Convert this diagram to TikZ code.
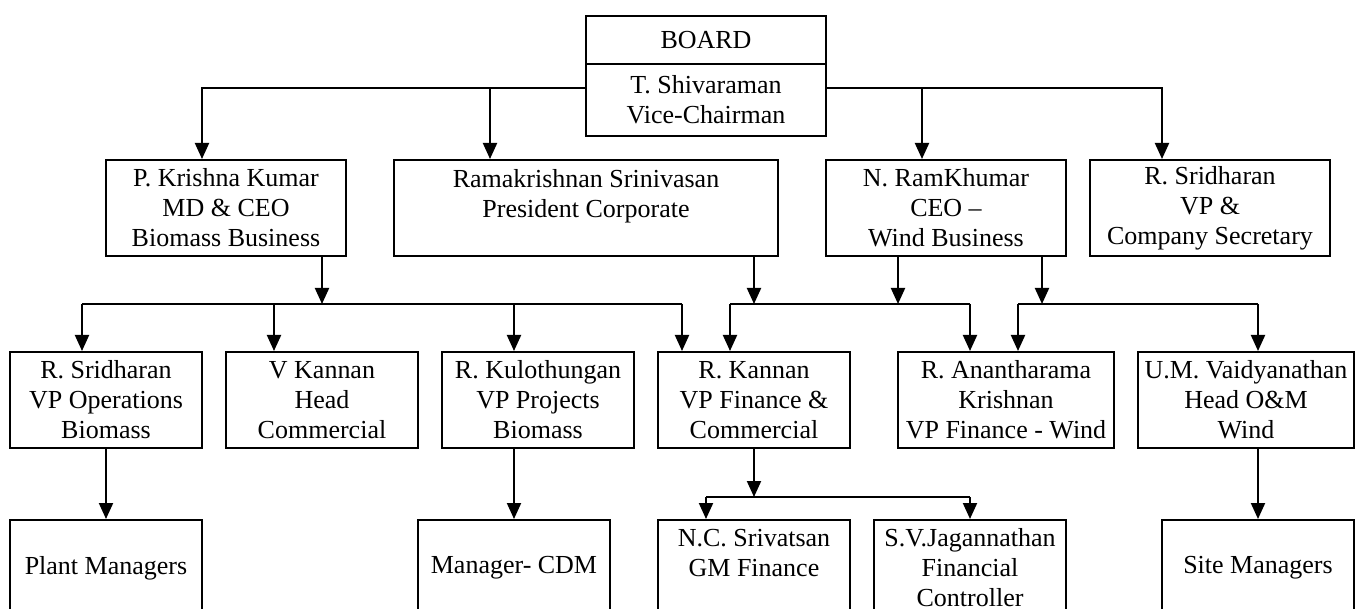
\documentclass[tikz,border=0pt]{standalone}
\usepackage{fontspec}
\setmainfont{Liberation Serif}
\usetikzlibrary{arrows.meta}

\begin{document}
\begin{tikzpicture}[x=0.5pt, y=-0.5pt,
    box/.style={draw, line width=1pt, align=center, inner sep=0pt,
        minimum width=96pt, minimum height=48pt,
        font=\fontsize{13}{15}\selectfont},
    wide/.style={minimum width=120pt},
    semi/.style={minimum width=108pt},
    arr/.style={line width=1pt, -{Triangle[length=8pt,width=7pt]}},
    bus/.style={line width=1pt}]

    % Fix the page size
    \useasboundingbox (0,0) rectangle (1355,609);
    \clip (0,0) rectangle (1355,609);

    % Board on top
    \node[box, wide, minimum height=24pt] (board) at (706,40) {BOARD};
    \node[box, wide, minimum height=36pt] (vc) at (706,100) {T. Shivaraman\\Vice-Chairman};

    % First level
    \node[box, wide] (pk) at (226,208) {P. Krishna Kumar\\MD \& CEO\\Biomass Business};
    \node[box, minimum width=192pt] (rs) at (586,208) {Ramakrishnan Srinivasan\\President Corporate\\~};
    \node[box, wide] (nr) at (946,208) {N. RamKhumar\\CEO --\\Wind Business};
    \node[box, wide] (rsr) at (1210,208) {R. Sridharan\\VP \&\\Company Secretary};

    % Second level
    \node[box] (rso) at (106,400) {R. Sridharan\\VP Operations\\Biomass};
    \node[box] (vk) at (322,400) {V Kannan\\Head\\Commercial};
    \node[box] (rk) at (538,400) {R. Kulothungan\\VP Projects\\Biomass};
    \node[box] (rka) at (754,400) {R. Kannan\\VP Finance \&\\Commercial};
    \node[box, semi] (ra) at (1006,400) {R. Anantharama\\Krishnan\\VP Finance - Wind};
    \node[box, semi] (um) at (1246,400) {U.M. Vaidyanathan\\Head O\&M\\Wind};

    % Third level
    \node[box] (pm) at (106,568) {Plant Managers};
    \node[box] (cdm) at (514,568) {Manager- CDM};
    \node[box] (ncs) at (754,568) {N.C. Srivatsan\\GM Finance\\~};
    \node[box] (svj) at (970,568) {S.V.Jagannathan\\Financial\\Controller};
    \node[box] (sm) at (1258,568) {Site Managers};

    % Board to first level
    \coordinate (t1) at (202,88);
    \coordinate (t2) at (490,88);
    \coordinate (t3) at (922,88);
    \coordinate (t4) at (1162,88);
    \draw[arr] (vc.west |- t1) -| (t1 |- pk.north);
    \draw[arr] (t2) -- (t2 |- rs.north);
    \draw[arr] (vc.east |- t4) -| (t4 |- rsr.north);
    \draw[arr] (t3) -- (t3 |- nr.north);

    % First level to second level
    \coordinate (m1) at (322,304);
    \coordinate (m2) at (754,304);
    \coordinate (m3) at (898,304);
    \coordinate (m4) at (1042,304);
    \draw[arr] (m1 |- pk.south) -- (m1);
    \draw[arr] (m2 |- rs.south) -- (m2);
    \draw[arr] (m3 |- nr.south) -- (m3);
    \draw[arr] (m4 |- nr.south) -- (m4);

    \coordinate (a1) at (82,304);
    \coordinate (a2) at (274,304);
    \coordinate (a3) at (514,304);
    \coordinate (a4) at (682,304);
    \coordinate (b1) at (730,304);
    \coordinate (b2) at (970,304);
    \coordinate (c1) at (1018,304);
    \coordinate (c2) at (1258,304);
    \draw[bus] (a1) -- (a4);
    \draw[bus] (b1) -- (b2);
    \draw[bus] (c1) -- (c2);
    \foreach \c/\n in {a1/rso, a2/vk, a3/rk, a4/rka, b1/rka, b2/ra, c1/ra, c2/um}
        \draw[arr] (\c) -- (\c |- \n.north);

    % Second level to third level
    \draw[arr] (rso.south) -- (pm.north);
    \draw[arr] (cdm.north |- rk.south) -- (cdm.north);
    \draw[arr] (sm.north |- um.south) -- (sm.north);

    \coordinate (m5) at (754,497);
    \coordinate (d1) at (706,497);
    \coordinate (d2) at (970,497);
    \draw[arr] (rka.south) -- (m5);
    \draw[bus] (d1) -- (d2);
    \draw[arr] (d1) -- (d1 |- ncs.north);
    \draw[arr] (d2) -- (d2 |- svj.north);
\end{tikzpicture}
\end{document}
